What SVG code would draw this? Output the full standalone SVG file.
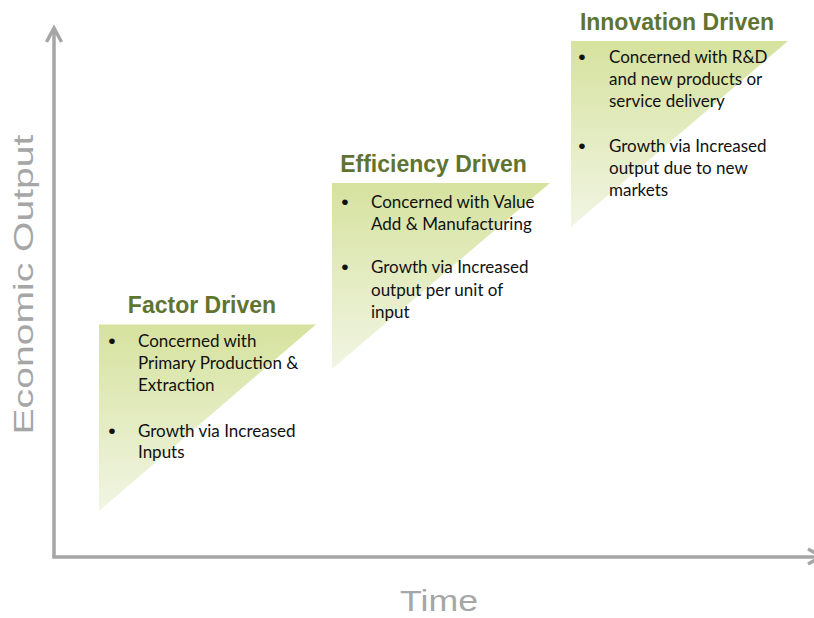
<svg xmlns="http://www.w3.org/2000/svg" width="814" height="618" viewBox="0 0 814 618">
  <defs>
    <linearGradient id="tri" x1="0" y1="0" x2="0" y2="1">
      <stop offset="0" stop-color="#d6e29e"/>
      <stop offset="1" stop-color="#f1f5e3"/>
    </linearGradient>
  </defs>
  <style>
    .tri { fill: url(#tri); }
    .head { font-family: "Liberation Sans", Arial, sans-serif; font-weight: bold; font-size: 23px; fill: #5f7432; text-anchor: middle; }
    .body { font-family: Lato, "Liberation Sans", sans-serif; font-size: 17px; fill: #111; }
    .bul { font-family: "Liberation Sans", sans-serif; font-size: 21px; fill: #111; text-anchor: middle; }
    .axis { fill: none; stroke: #a6a6a6; stroke-width: 3.5; stroke-linecap: butt; stroke-linejoin: miter; }
    .axtitle { font-family: "Liberation Sans", Arial, sans-serif; fill: #a6a6a6; }
  </style>
  <rect width="814" height="618" fill="#ffffff"/>

  <g id="connectors">
    <path class="axis" d="M54,557 V29"/>
    <path class="axis" d="M46.5,42 L54,28 L61.5,42"/>
    <path class="axis" d="M52.3,557 H820"/>
    <path class="axis" d="M808,549 L822,556.5 L808,564"/>
  </g>

  <g id="axis-y-label">
    <text class="axtitle" font-size="28" transform="translate(33,434.5) rotate(-90)" textLength="300" lengthAdjust="spacingAndGlyphs">Economic Output</text>
  </g>
  <g id="axis-x-label">
    <text class="axtitle" font-size="30" x="400" y="611" textLength="78" lengthAdjust="spacingAndGlyphs">Time</text>
  </g>

  <g id="factor-driven">
    <polygon class="tri" points="99,324.5 316,324.5 99,511"/>
    <text class="head" x="202" y="313">Factor Driven</text>
    <text class="bul" x="112" y="348">•</text>
    <text class="body" x="138" y="347">Concerned with</text>
    <text class="body" x="138" y="369">Primary Production &amp;</text>
    <text class="body" x="138" y="391">Extraction</text>
    <text class="bul" x="112" y="437.5">•</text>
    <text class="body" x="138" y="436.5">Growth via Increased</text>
    <text class="body" x="138" y="458">Inputs</text>
  </g>

  <g id="efficiency-driven">
    <polygon class="tri" points="332,183 550,183 332,369"/>
    <text class="head" x="433.5" y="171.5">Efficiency Driven</text>
    <text class="bul" x="345" y="209">•</text>
    <text class="body" x="371" y="208">Concerned with Value</text>
    <text class="body" x="371" y="230">Add &amp; Manufacturing</text>
    <text class="bul" x="345" y="274">•</text>
    <text class="body" x="371" y="273">Growth via Increased</text>
    <text class="body" x="371" y="295.5">output per unit of</text>
    <text class="body" x="371" y="318">input</text>
  </g>

  <g id="innovation-driven">
    <polygon class="tri" points="571,41 788,41 571,227"/>
    <text class="head" x="677" y="30">Innovation Driven</text>
    <text class="bul" x="582" y="64">•</text>
    <text class="body" x="609" y="63">Concerned with R&amp;D</text>
    <text class="body" x="609" y="85">and new products or</text>
    <text class="body" x="609" y="107">service delivery</text>
    <text class="bul" x="582" y="153">•</text>
    <text class="body" x="609" y="152">Growth via Increased</text>
    <text class="body" x="609" y="174">output due to new</text>
    <text class="body" x="609" y="196">markets</text>
  </g>
</svg>
